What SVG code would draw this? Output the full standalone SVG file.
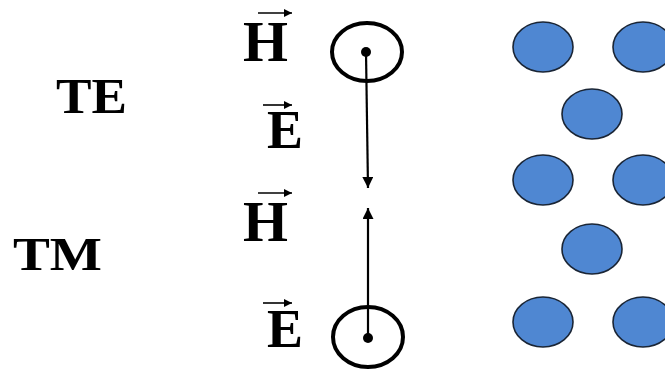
<svg xmlns="http://www.w3.org/2000/svg" width="665" height="369" viewBox="0 0 665 369">
<defs>
<style>
.lbl{font-family:"Liberation Serif","Times New Roman",serif;font-weight:bold;fill:#000}
.atom{fill:#4F87D2;stroke:#1a2535;stroke-width:1.6}
.ring{fill:none;stroke:#000;stroke-width:4}
.vec{stroke:#000;stroke-width:1.6}
.main{stroke:#000;stroke-width:2.2}
</style>
<marker id="ah" viewBox="0 0 10 10" refX="10" refY="5" markerWidth="5.5" markerHeight="5" markerUnits="strokeWidth" orient="auto">
<path d="M0,0 L10,5 L0,10 z" fill="#000"/>
</marker>
<marker id="sv" viewBox="0 0 10 10" refX="10" refY="5" markerWidth="6" markerHeight="5" markerUnits="strokeWidth" orient="auto">
<path d="M0,0 L10,5 L0,10 z" fill="#000"/>
</marker>
</defs>
<rect width="665" height="369" fill="#fff"/>

<g id="label-TE"><text class="lbl" x="56" y="113" font-size="51" textLength="71" lengthAdjust="spacingAndGlyphs">TE</text></g>
<g id="label-TM"><text class="lbl" x="13" y="270" font-size="46" textLength="89" lengthAdjust="spacingAndGlyphs">TM</text></g>

<g id="H-top"><text class="lbl" x="243" y="61" font-size="57" textLength="45" lengthAdjust="spacingAndGlyphs">H</text></g>
<g id="E-top"><text class="lbl" x="267" y="148" font-size="54" textLength="36" lengthAdjust="spacingAndGlyphs">E</text></g>
<g id="H-bot"><text class="lbl" x="243" y="241" font-size="57" textLength="45" lengthAdjust="spacingAndGlyphs">H</text></g>
<g id="E-bot"><text class="lbl" x="267" y="347" font-size="54" textLength="36" lengthAdjust="spacingAndGlyphs">E</text></g>

<g id="ring-top"><ellipse class="ring" cx="367" cy="52" rx="35" ry="29"/><circle cx="366" cy="52" r="5"/></g>
<g id="ring-bot"><ellipse class="ring" cx="368" cy="337" rx="35" ry="30"/><circle cx="368" cy="338" r="5"/></g>

<g id="connectors">
<line class="vec" x1="258" y1="13" x2="292" y2="13" marker-end="url(#sv)"/>
<line class="vec" x1="263" y1="105" x2="292" y2="105" marker-end="url(#sv)"/>
<line class="vec" x1="258" y1="193" x2="292" y2="193" marker-end="url(#sv)"/>
<line class="vec" x1="263" y1="303" x2="292" y2="303" marker-end="url(#sv)"/>
<line class="main" x1="366" y1="52" x2="368" y2="188" marker-end="url(#ah)"/>
<line class="main" x1="368" y1="338" x2="368" y2="208" marker-end="url(#ah)"/>
</g>

<g id="lattice">
<ellipse class="atom" cx="543" cy="47" rx="30" ry="25"/>
<ellipse class="atom" cx="643" cy="47" rx="30" ry="25"/>
<ellipse class="atom" cx="592" cy="114" rx="30" ry="25"/>
<ellipse class="atom" cx="543" cy="180" rx="30" ry="25"/>
<ellipse class="atom" cx="643" cy="180" rx="30" ry="25"/>
<ellipse class="atom" cx="592" cy="249" rx="30" ry="25"/>
<ellipse class="atom" cx="543" cy="322" rx="30" ry="25"/>
<ellipse class="atom" cx="643" cy="322" rx="30" ry="25"/>
</g>
</svg>
